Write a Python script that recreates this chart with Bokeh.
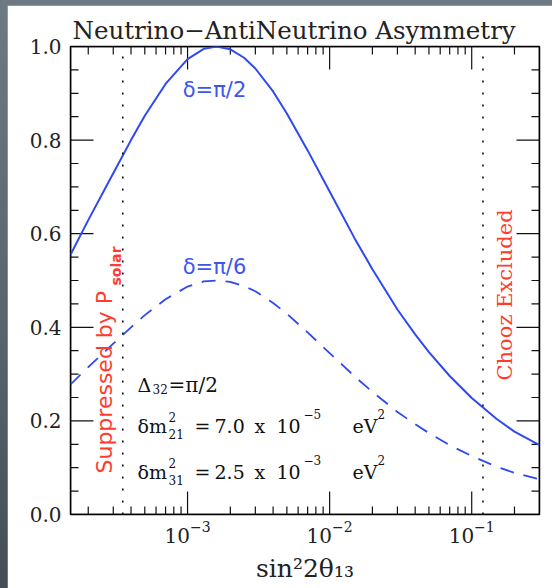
import math
from bokeh.plotting import figure
from bokeh.models import FixedTicker, Label, Range1d, PrintfTickFormatter
from bokeh.layouts import column
from bokeh.embed import file_html
from bokeh.resources import INLINE

# ---------------- data ----------------
sin2_2theta13 = [1.5e-4, 2e-4, 3e-4, 4e-4, 5e-4, 7e-4, 1e-3, 1.3e-3, 1.6e-3,
                 2e-3, 2.5e-3, 3e-3, 4e-3, 5e-3, 7e-3, 1e-2, 1.5e-2, 2e-2,
                 3e-2, 4e-2, 5e-2, 7e-2, 0.1, 0.15, 0.2, 0.3]
asym_delta_pi2 = [0.555, 0.629, 0.729, 0.800, 0.852, 0.920, 0.973, 0.995, 1.000,
                  0.994, 0.976, 0.953, 0.904, 0.857, 0.778, 0.690, 0.590, 0.524,
                  0.438, 0.385, 0.347, 0.296, 0.249, 0.204, 0.177, 0.148]
asym_delta_pi6 = [0.278, 0.315, 0.365, 0.400, 0.426, 0.460, 0.487, 0.498, 0.500,
                  0.497, 0.488, 0.477, 0.452, 0.429, 0.389, 0.345, 0.295, 0.262,
                  0.219, 0.193, 0.174, 0.148, 0.125, 0.102, 0.089, 0.075]
solar_limit = 3.5e-4
chooz_limit = 0.12
x_major_ticks = [1e-3, 1e-2, 1e-1]
x_tick_labels = ["10\u207b\u00b3", "10\u207b\u00b2", "10\u207b\u00b9"]
y_major_ticks = [0.0, 0.2, 0.4, 0.6, 0.8, 1.0]

X_MIN, X_MAX = 1.5e-4, 0.3
Y_MIN, Y_MAX = 0.0, 1.0

x_minor = [m * 10.0 ** e for e in range(-4, 0) for m in range(2, 10)
           if X_MIN < m * 10.0 ** e < X_MAX]
y_minor = [round(i * 0.05, 2) for i in range(1, 20) if i % 4 != 0]

BLUE = "#2f49f2"
BLUE_TXT = "#3d55f0"
RED = "#ff3b2f"
SERIF = "DejaVu Serif"
SANS = "DejaVu Sans"
AXIS_COL = "#111111"
NAN = float("nan")

# frame placement in window pixels (used only to position annotations / ticks)
FL, FR, FT, FB = 70.0, 539.0, 46.0, 514.0
LX0, LX1 = math.log10(X_MIN), math.log10(X_MAX)
PX_PER_DEC = (FR - FL) / (LX1 - LX0)
PX_PER_Y = (FB - FT) / (Y_MAX - Y_MIN)
MAJ_LEN, MIN_LEN = 23.0, 8.0


def px_x(px):
    return 10 ** (LX0 + (px - FL) / PX_PER_DEC)


def px_y(py):
    return Y_MIN + (FB - py) / PX_PER_Y


p = figure(width=545, height=583, x_axis_type="log",
           x_range=Range1d(X_MIN, X_MAX), y_range=Range1d(Y_MIN, Y_MAX),
           output_backend="svg", toolbar_location=None,
           min_border_left=63, min_border_right=13, min_border_top=41,
           min_border_bottom=74, background_fill_color="white",
           border_fill_color="white", outline_line_color="black",
           outline_line_width=1.5)
p.margin = (5, 0, 0, 7)
p.xgrid.visible = False
p.ygrid.visible = False

for ax in (p.xaxis[0], p.yaxis[0]):
    ax.axis_line_color = None
    ax.major_tick_line_color = None
    ax.minor_tick_line_color = None
    ax.major_tick_in = 0
    ax.major_tick_out = 0
    ax.minor_tick_in = 0
    ax.minor_tick_out = 0
    ax.major_label_text_font = SERIF
    ax.major_label_text_font_size = "20px"
    ax.major_label_text_color = "#222222"

xa = p.xaxis[0]
xa.ticker = FixedTicker(ticks=x_major_ticks)
xa.major_label_overrides = {str(t): l for t, l in zip(x_major_ticks, x_tick_labels)}
xa.major_label_standoff = 6
xa.axis_label = "sin\u00b22\u03b8\u2081\u2083"
xa.axis_label_text_font = SERIF
xa.axis_label_text_font_style = "normal"
xa.axis_label_text_font_size = "25px"
xa.axis_label_text_color = "#222222"
xa.axis_label_standoff = 8

ya = p.yaxis[0]
ya.ticker = FixedTicker(ticks=y_major_ticks)
ya.formatter = PrintfTickFormatter(format="%.1f")
ya.major_label_standoff = 9

p.title.text = "Neutrino\u2212AntiNeutrino Asymmetry"
p.title.text_font = SERIF
p.title.text_font_style = "normal"
p.title.text_font_size = "24.5px"
p.title.text_color = "#222222"
p.title.align = "left"
p.title.offset = 2
p.title.standoff = 4

# ---- inward ticks on all four sides, drawn as broken polylines ----
tick_xs, tick_ys = [], []


def add_x_ticks(vals, length):
    dy = length / PX_PER_Y
    for v in vals:
        tick_xs.extend([v, v, NAN, v, v, NAN])
        tick_ys.extend([Y_MIN, Y_MIN + dy, NAN, Y_MAX, Y_MAX - dy, NAN])


def add_y_ticks(vals, length):
    f = 10 ** (length / PX_PER_DEC)
    for v in vals:
        tick_xs.extend([X_MIN, X_MIN * f, NAN, X_MAX, X_MAX / f, NAN])
        tick_ys.extend([v, v, NAN, v, v, NAN])


add_x_ticks(x_major_ticks, MAJ_LEN)
add_x_ticks(x_minor, MIN_LEN)
add_y_ticks(y_major_ticks[1:-1], MAJ_LEN)
add_y_ticks(y_minor, MIN_LEN)
p.line(tick_xs, tick_ys, line_color=AXIS_COL, line_width=1.2)

# frame edges
p.line([X_MIN, X_MAX, X_MAX, X_MIN, X_MIN], [Y_MIN, Y_MIN, Y_MAX, Y_MAX, Y_MIN],
       line_color="black", line_width=1.5)

# curves
p.line(sin2_2theta13, asym_delta_pi2, line_color=BLUE, line_width=2)
p.line(sin2_2theta13, asym_delta_pi6, line_color=BLUE, line_width=1.8,
       line_dash="14 10")

# limit lines (vertical, from bottom to top of the frame)
for loc in (solar_limit, chooz_limit):
    p.segment(x0=[loc], y0=[Y_MIN], x1=[loc], y1=[Y_MAX], line_color="#111111",
              line_width=1.6, line_dash="2 10")


def lab(text, px, py, size, color="#111111", font=SERIF, angle=0.0,
        style="normal", align="left"):
    p.add_layout(Label(x=px_x(px), y=px_y(py), text=text, angle=angle,
                       text_font=font, text_font_size=size, text_color=color,
                       text_font_style=style, text_align=align,
                       text_baseline="alphabetic"))


# curve labels
lab("\u03b4=\u03c0/2", 214, 89, "21px", BLUE_TXT, SANS, align="center")
lab("\u03b4=\u03c0/6", 214, 266, "21px", BLUE_TXT, SANS, align="center")

# vertical red labels
lab("Suppressed by P", 104, 473, "22px", RED, SANS, angle=math.pi / 2)
lab("solar", 115, 285, "14px", RED, SANS, angle=math.pi / 2, style="bold")
lab("Chooz Excluded", 504, 380, "21px", RED, SERIF, angle=math.pi / 2)

# parameter block
lab("\u0394", 137, 384, "19px")
lab("32", 152, 388, "12px")
lab("=\u03c0/2", 168, 384, "20px")

for base, num, sub, expo in ((425, "7.0", "21", "\u22125"),
                             (471, "2.5", "31", "\u22123")):
    lab("\u03b4m", 137, base, "19px")
    lab("2", 168, base - 9, "12px")
    lab(sub, 168, base + 8, "12px")
    lab("=", 194, base, "19px")
    lab(num, 214, base, "19px")
    lab("x", 254, base, "19px")
    lab("10", 276, base, "19px")
    lab(expo, 303, base - 12, "12px")
    lab("eV", 352, base, "19px")
    lab("2", 377, base - 12, "12px")

layout = column(p, width=552, height=588,
                styles={"background": "linear-gradient(180deg, #6e7a83 0%, #56626b 60%, #434e56 100%)"})

open("out.html", "w").write(file_html(layout, INLINE))
